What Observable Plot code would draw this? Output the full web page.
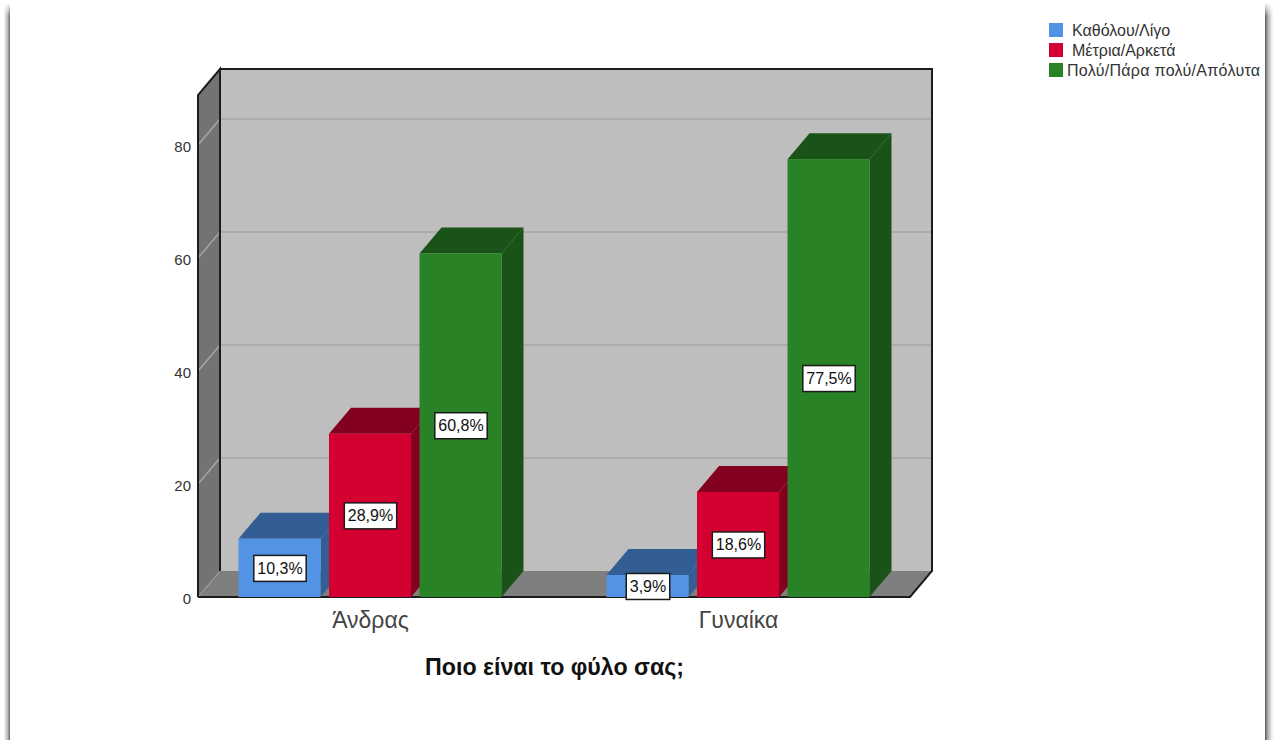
<!DOCTYPE html>
<html lang="el">
<head>
<meta charset="utf-8">
<script src="https://cdn.jsdelivr.net/npm/d3@7"></script>
<script src="https://cdn.jsdelivr.net/npm/@observablehq/plot@0.6"></script>
<style>
  html, body { margin: 0; padding: 0; background: #fff; overflow: hidden; width: 1274px; height: 740px; }
  #chart svg { display: block; position: absolute; left: 0; top: 0; }
  .edge { position: absolute; top: 0; bottom: 0; height: 740px;
    -webkit-mask-image: linear-gradient(to bottom, transparent 3px, #000 16px); mask-image: linear-gradient(to bottom, transparent 3px, #000 16px); }
  #edgeL { left: 0; width: 10px; background: linear-gradient(to right, #fff 35%, #bbb 75%, #666 100%); }
  #edgeR { left: 1265px; width: 9px; background: linear-gradient(to right, #555 0%, #aaa 30%, #eee 75%, #fff 100%); }
  #legend { position: absolute; left: 0; top: 0; font: 16px "Liberation Sans", Arial, sans-serif; color: #333; }
  #legend .sw { position: absolute; left: 1049px; width: 14px; height: 14px; }
  #legend .tx { position: absolute; white-space: nowrap; line-height: 16px; }
</style>
</head>
<body>
<div class="edge" id="edgeL"></div>
<div class="edge" id="edgeR"></div>
<div id="chart"></div>
<div id="legend"></div>
<script>
const categories = ["Άνδρας", "Γυναίκα"];
const seriesNames = ["Καθόλου/Λίγο", "Μέτρια/Αρκετά", "Πολύ/Πάρα πολύ/Απόλυτα"];
const valuesMen = [10.3, 28.9, 60.8];
const valuesWomen = [3.9, 18.6, 77.5];
const yTicks = [0, 20, 40, 60, 80];
const gridTicks = [20, 40, 60, 80];
const axisTitle = "Ποιο είναι το φύλο σας;";
const frontColors = ["#5294E3", "#D50032", "#2A8227"];
const topColors = ["#335E94", "#84001F", "#1A5317"];

const FONT = '"Liberation Sans", Arial, sans-serif';
const depthX = 22, depthY = 26;
const W = 1274, H = 740, mL = 198, mR = 364, mT = 95, mB = 143;

const rows = [valuesMen, valuesWomen].flatMap((vals, c) =>
  vals.map((value, s) => ({ category: categories[c], series: seriesNames[s], s, value })));
const fmt = v => v.toFixed(1).replace(".", ",") + "%";

const svgNode = (name, attrs, parent) => {
  const el = document.createElementNS("http://www.w3.org/2000/svg", name);
  for (const k in attrs) el.setAttribute(k, attrs[k]);
  if (parent) parent.appendChild(el);
  return el;
};
const poly = (pts) => pts.map(p => p.join(",")).join(" ");

// The box of the chart: walls, floor and the grid on them
function walls(index, scales) {
  const l = mL, r = W - mR, t = mT, b = H - mB;
  const g = svgNode("g", { "aria-label": "walls" });
  svgNode("polygon", { points: poly([[l + depthX, t - depthY], [r + depthX, t - depthY], [r + depthX, b - depthY], [l + depthX, b - depthY]]), fill: "#bebebe" }, g);
  svgNode("polygon", { points: poly([[l, t], [l + depthX, t - depthY], [l + depthX, b - depthY], [l, b]]), fill: "#737373" }, g);
  svgNode("polygon", { points: poly([[l, b], [l + depthX, b - depthY], [r + depthX, b - depthY], [r, b]]), fill: "#7f7f7f" }, g);
  for (const tick of gridTicks) {
    const y = scales.y(tick);
    svgNode("polyline", { points: poly([[l, y], [l + depthX, y - depthY], [r + depthX, y - depthY]]), fill: "none", stroke: "#a6a6a6", "stroke-width": 1.5 }, g);
  }
  svgNode("line", { x1: l, y1: b, x2: l + depthX, y2: b - depthY, stroke: "#a6a6a6", "stroke-width": 1 }, g);
  svgNode("polyline", { points: poly([[l, b], [l, t], [l + depthX, t - depthY], [l + depthX, b - depthY]]), fill: "none", stroke: "#1c1c1c", "stroke-width": 2 }, g);
  svgNode("polyline", { points: poly([[l + depthX, t - depthY], [r + depthX, t - depthY], [r + depthX, b - depthY], [r, b], [l, b]]), fill: "none", stroke: "#1c1c1c", "stroke-width": 2 }, g);
  return g;
}

// Each bar gets its roof and its side, drawn before its front
function bars3d(index, scales, values, dims, context, next) {
  const g = next(index, scales, values, dims, context);
  const rects = g.querySelectorAll("rect");
  const bw = scales.x.bandwidth();
  index.forEach((i, n) => {
    const d = rows[i];
    const x1 = scales.x(d.series), x2 = x1 + bw;
    const yt = scales.y(d.value), y0 = scales.y(0);
    const shade = topColors[d.s];
    const side = svgNode("polygon", { fill: shade, points: poly([[x2, yt], [x2 + depthX, yt - depthY], [x2 + depthX, y0 - depthY], [x2, y0]]) });
    const roof = svgNode("polygon", { fill: shade, points: poly([[x1, yt], [x1 + depthX, yt - depthY], [x2 + depthX, yt - depthY], [x2, yt]]) });
    g.insertBefore(side, rects[n]);
    g.insertBefore(roof, rects[n]);
  });
  return g;
}

// Each value label sits on a white box with a dark border.
// The text group is already shifted to the middle of the band, so the box only needs the band's start.
const measure = document.createElement("canvas").getContext("2d");
function boxedLabels(index, scales, values, dims, context, next) {
  const g = next(index, scales, values, dims, context);
  const texts = g.querySelectorAll("text");
  measure.font = "16px " + FONT;
  index.forEach((i, n) => {
    const d = rows[i];
    const w = measure.measureText(fmt(d.value)).width + 7, h = 26;
    const cx = scales.x(d.series), cy = scales.y(d.value / 2);
    g.insertBefore(svgNode("rect", { x: cx - w / 2, y: cy - h / 2, width: w, height: h, fill: "#fff", stroke: "#1a1a1a", "stroke-width": 1.5 }), texts[n]);
  });
  return g;
}

const chart = Plot.plot({
  width: W,
  height: H,
  marginLeft: mL,
  marginRight: mR,
  marginTop: mT,
  marginBottom: mB,
  style: { background: "transparent", fontFamily: FONT, overflow: "visible" },
  fx: { domain: categories, paddingInner: 0.2853, paddingOuter: 0.11, round: false, label: null, axis: null },
  x: { domain: seriesNames, paddingInner: 0.094, paddingOuter: 0, round: false, label: null, axis: null },
  y: { domain: [0, 88.85], label: null, axis: null },
  marks: [
    Plot.frame({ facet: "super", render: walls }),
    Plot.barY(rows, { fx: "category", x: "series", y: "value", fill: d => frontColors[d.s], render: bars3d }),
    Plot.text(rows, { fx: "category", x: "series", y: d => d.value / 2, text: d => fmt(d.value), fontSize: 16, fill: "#111", render: boxedLabels }),
    Plot.axisY(yTicks, { anchor: "left", label: null, tickSize: 0, tickPadding: 48, fontSize: 15, fill: "#333", dy: 1.5 }),
    Plot.axisFx({ anchor: "bottom", label: null, tickSize: 0, tickPadding: 14, fontSize: 23, fill: "#444" }),
    Plot.text([axisTitle], { frameAnchor: "bottom", dy: 77, text: d => d, fontSize: 23.2, fontWeight: "bold", fill: "#111", facet: "super" })
  ]
});
document.getElementById("chart").appendChild(chart);

const legend = document.getElementById("legend");
const swatchTop = [23, 43, 63];
const labelLeft = [1072, 1072, 1067];
const labelSpacing = [0, 0, 0.3];
seriesNames.forEach((name, i) => {
  const sw = document.createElement("div");
  sw.className = "sw";
  sw.style.top = swatchTop[i] + "px";
  sw.style.background = frontColors[i];
  legend.appendChild(sw);
  const tx = document.createElement("div");
  tx.className = "tx";
  tx.style.left = labelLeft[i] + "px";
  tx.style.top = swatchTop[i] + "px";
  tx.style.letterSpacing = labelSpacing[i] + "px";
  tx.textContent = name;
  legend.appendChild(tx);
});
</script>
</body>
</html>
